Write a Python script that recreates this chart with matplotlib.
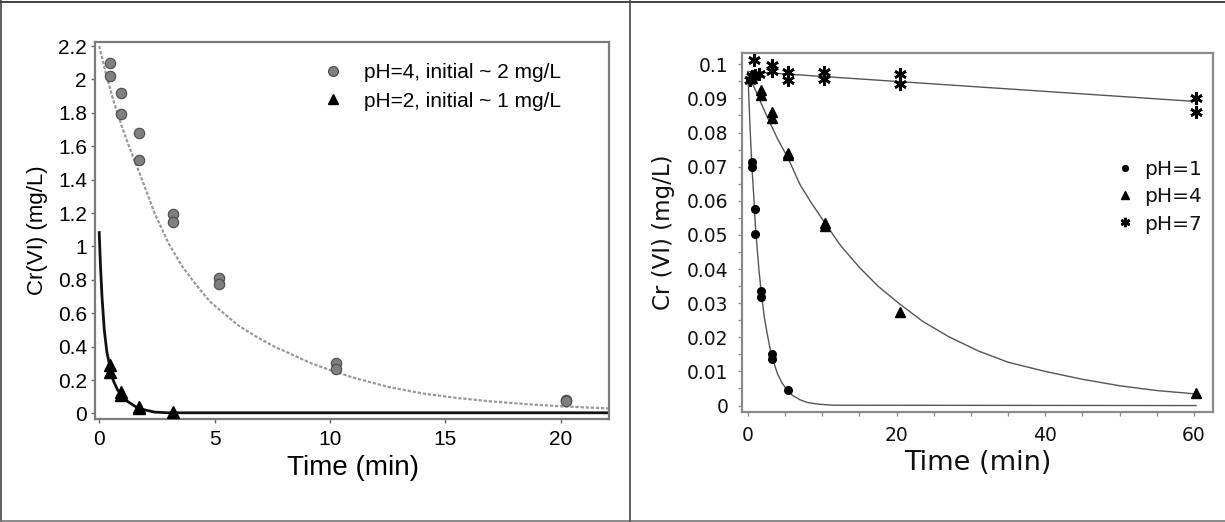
#!/usr/bin/env python3
"""Cr(VI) reduction kinetics: two panels, left at two pH values, right at pH 1/4/7."""

import matplotlib
matplotlib.use("Agg")
import matplotlib.pyplot as plt
from matplotlib.lines import Line2D
from matplotlib.ticker import MultipleLocator

# ---- left panel data (time in min, Cr(VI) in mg/L) ----
left_t_ph4 = [0.45, 0.45, 0.95, 0.95, 1.72, 1.72, 3.22, 3.22, 5.2, 5.2, 10.25, 10.25, 20.25, 20.25]
left_c_ph4 = [2.10, 2.02, 1.92, 1.79, 1.68, 1.52, 1.193, 1.147, 0.809, 0.775, 0.30, 0.268, 0.082, 0.072]
left_t_ph2 = [0.45, 0.45, 0.95, 0.95, 1.72, 1.72, 3.22]
left_c_ph2 = [0.288, 0.249, 0.129, 0.110, 0.040, 0.030, 0.008]

# fitted curves
left_fit4_t = [0.0, 0.3, 0.6, 1.0, 1.4, 1.8, 2.4, 3.0, 3.6, 4.2, 4.8, 5.4, 6.0, 6.8, 7.6,
               8.4, 9.2, 10.0, 11.0, 12.5, 14.0, 15.5, 17.0, 18.5, 20.0, 22.1]
left_fit4_c = [2.20, 2.03, 1.88, 1.71, 1.56, 1.42, 1.20, 1.02, 0.88, 0.77, 0.67, 0.60, 0.53, 0.46, 0.40,
               0.35, 0.30, 0.26, 0.215, 0.16, 0.12, 0.093, 0.072, 0.056, 0.043, 0.030]
left_fit2_t = [0.0, 0.05, 0.12, 0.22, 0.33, 0.45, 0.6, 0.8, 0.95, 1.25, 1.7, 2.4, 3.0, 22.1]
left_fit2_c = [1.083, 0.90, 0.70, 0.50, 0.37, 0.29, 0.20, 0.14, 0.115, 0.07, 0.03, 0.008, 0.004, 0.004]

left_legend = ["pH=4, initial ~ 2 mg/L", "pH=2, initial ~ 1 mg/L"]

# ---- right panel data ----
right_t_ph1 = [0.3, 0.6, 0.6, 0.95, 0.95, 1.8, 1.8, 3.3, 3.3, 5.4]
right_c_ph1 = [0.0955, 0.0715, 0.0698, 0.0575, 0.0502, 0.0335, 0.0319, 0.0150, 0.0135, 0.0045]
right_t_ph4 = [0.5, 1.8, 1.8, 3.3, 3.3, 5.4, 5.4, 10.4, 10.4, 20.4, 60.3]
right_c_ph4 = [0.0960, 0.0925, 0.0910, 0.0861, 0.0842, 0.0741, 0.0734, 0.0534, 0.0526, 0.0275, 0.0036]
right_t_ph7 = [0.3, 0.5, 0.85, 1.0, 1.5, 3.2, 3.2, 5.4, 5.4, 10.3, 10.3, 20.4, 20.4, 60.3, 60.3]
right_c_ph7 = [0.0955, 0.0965, 0.1013, 0.0970, 0.0972, 0.0998, 0.0981, 0.0978, 0.0953,
               0.0978, 0.0957, 0.0973, 0.0942, 0.0901, 0.0859]

right_fit1_t = [0.0, 0.15, 0.3, 0.45, 0.6, 0.8, 1.0, 1.25, 1.5, 1.8, 2.2, 2.6, 3.0, 3.5, 4.0,
                4.6, 5.3, 6.0, 7.0, 8.0, 9.5, 11.5, 60.3]
right_fit1_c = [0.0975, 0.089, 0.081, 0.074, 0.068, 0.061, 0.053, 0.046, 0.0395, 0.033, 0.026, 0.021,
                0.0165, 0.0125, 0.0092, 0.0066, 0.0045, 0.003, 0.0017, 0.0009, 0.0004, 0.0001, 0.0]
right_fit4_t = [0.0, 1.0, 2.0, 3.0, 4.0, 5.4, 7.0, 8.5, 10.4, 12.5, 15.0, 17.5, 20.4, 23.5, 27.0,
                31.0, 35.0, 40.0, 45.0, 50.0, 55.0, 60.3]
right_fit4_c = [0.0975, 0.0925, 0.0875, 0.0827, 0.0781, 0.0725, 0.0648, 0.0595, 0.0534, 0.0468, 0.0405,
                0.0350, 0.0298, 0.0247, 0.0202, 0.0160, 0.0127, 0.0100, 0.0077, 0.0058, 0.0044, 0.0034]
right_fit7_t = [0.0, 60.3]
right_fit7_c = [0.0979, 0.0891]

right_legend = ["pH=1", "pH=4", "pH=7"]

W, H = 1225, 522


def ax_rect(left, top, right, bottom):
    return [left / W, 1 - bottom / H, (right - left) / W, (bottom - top) / H]


def draw_left(fig):
    ax = fig.add_axes(ax_rect(94.6, 42, 609, 419.3))
    font = "Liberation Sans"
    ax.plot(left_fit4_t, left_fit4_c, color="#9a9a9a", lw=1.6, ls=(0, (1.5, 0.8)), zorder=2)
    ax.plot(left_fit2_t, left_fit2_c, color="#111111", lw=2.0, zorder=2)
    ax.plot(left_t_ph4, left_c_ph4, "o", ms=7.5, mfc="#7f7f7f", mec="#4a4a4a", mew=0.8,
            label=left_legend[0], zorder=3)
    ax.plot(left_t_ph2, left_c_ph2, "^", ms=8, color="black", label=left_legend[1], zorder=3)

    ax.set_xlim(-0.2, 22.1)
    ax.set_ylim(-0.035, 2.224)
    ax.set_xticks([0, 5, 10, 15, 20])
    ax.set_yticks([0, 0.2, 0.4, 0.6, 0.8, 1, 1.2, 1.4, 1.6, 1.8, 2, 2.2])
    ax.set_yticklabels(["0", "0.2", "0.4", "0.6", "0.8", "1", "1.2", "1.4", "1.6", "1.8", "2", "2.2"])
    ax.tick_params(direction="out", length=3, width=1, color="#666666", labelsize=15)
    ax.tick_params(axis="x", pad=4.5)
    ax.tick_params(axis="y", pad=2.5)
    for lab in ax.get_xticklabels() + ax.get_yticklabels():
        lab.set_family(font)
    for sp in ax.spines.values():
        sp.set_color("#7a7a7a")
        sp.set_linewidth(1.6)

    ax.set_xlabel("Time (min)", fontsize=20, family=font)
    ax.set_ylabel("Cr(VI) (mg/L)", fontsize=16, family=font)
    ax.xaxis.set_label_coords(0.502, -0.129)
    ax.yaxis.set_label_coords(-0.111, 0.5)
    ax.xaxis.label.set_verticalalignment("center")
    ax.yaxis.label.set_verticalalignment("center")

    ax.legend(loc="upper left", bbox_to_anchor=(0.443, 0.944), frameon=False,
              prop={"family": font, "size": 15}, handlelength=1.0, handletextpad=1.0,
              labelspacing=0.45, borderpad=0, borderaxespad=0, markerscale=0.95)


def draw_right(fig):
    ax = fig.add_axes(ax_rect(741.8, 52.7, 1213.2, 411.7))
    font = "DejaVu Sans"
    ax.plot(right_fit1_t, right_fit1_c, color="#555555", lw=1.0, zorder=2)
    ax.plot(right_fit4_t, right_fit4_c, color="#555555", lw=1.0, zorder=2)
    ax.plot(right_fit7_t, right_fit7_c, color="#555555", lw=1.0, zorder=2)
    ax.plot(right_t_ph1, right_c_ph1, "o", ms=5.5, color="black", label=right_legend[0], zorder=3)
    ax.plot(right_t_ph4, right_c_ph4, "^", ms=7.5, color="black", label=right_legend[1], zorder=3)
    ax.plot(right_t_ph7, right_c_ph7, ls="none", marker=(6, 2, 0), ms=9, mew=1.9, color="black",
            label=right_legend[2], zorder=3)

    ax.set_xlim(-0.82, 62.6)
    ax.set_ylim(-0.0018, 0.1034)
    ax.set_xticks([0, 20, 40, 60])
    ax.xaxis.set_minor_locator(MultipleLocator(5))
    ax.set_yticks([0, 0.01, 0.02, 0.03, 0.04, 0.05, 0.06, 0.07, 0.08, 0.09, 0.1])
    ax.set_yticklabels(["0", "0.01", "0.02", "0.03", "0.04", "0.05", "0.06", "0.07", "0.08", "0.09", "0.1"])
    ax.yaxis.set_minor_locator(MultipleLocator(0.005))
    ax.tick_params(which="both", direction="out", length=3, width=0.9, color="#888888",
                   labelsize=13.5, labelcolor="#111111")
    ax.tick_params(axis="x", which="major", pad=7)
    ax.tick_params(axis="y", which="major", pad=6.5)
    for lab in ax.get_xticklabels() + ax.get_yticklabels():
        lab.set_family(font)
    for sp in ax.spines.values():
        sp.set_color("#8a8a8a")
        sp.set_linewidth(1.6)

    ax.set_xlabel("Time (min)", fontsize=19.5, family=font, color="#111111")
    ax.set_ylabel("Cr (VI) (mg/L)", fontsize=16.5, family=font, color="#111111")
    ax.xaxis.set_label_coords(0.5, -0.143)
    ax.yaxis.set_label_coords(-0.167, 0.5)
    ax.xaxis.label.set_verticalalignment("center")
    ax.yaxis.label.set_verticalalignment("center")

    ax.legend(loc="upper left", bbox_to_anchor=(0.796, 0.700), frameon=False,
              prop={"family": font, "size": 14.5}, handlelength=0.8, handletextpad=0.55,
              labelspacing=0.4, borderpad=0, borderaxespad=0, markerscale=0.75,
              labelcolor="#111111")


def draw_frame(fig):
    # outer border and divider between the two panels
    fig.add_artist(Line2D([0, 1], [1 - 1.5 / H, 1 - 1.5 / H], transform=fig.transFigure,
                          color="#222222", lw=1.2))
    fig.add_artist(Line2D([0.8 / W, 0.8 / W], [0, 1], transform=fig.transFigure,
                          color="#444444", lw=1.2))
    fig.add_artist(Line2D([0, 1], [1.2 / H, 1.2 / H], transform=fig.transFigure,
                          color="#777777", lw=1.2))
    fig.add_artist(Line2D([629.7 / W, 629.7 / W], [0, 1], transform=fig.transFigure,
                          color="#555555", lw=1.3))


def main():
    fig = plt.figure(figsize=(W / 100, H / 100), dpi=100)
    draw_left(fig)
    draw_right(fig)
    draw_frame(fig)
    fig.savefig("out.png", dpi=100)
    plt.close(fig)


if __name__ == "__main__":
    main()
